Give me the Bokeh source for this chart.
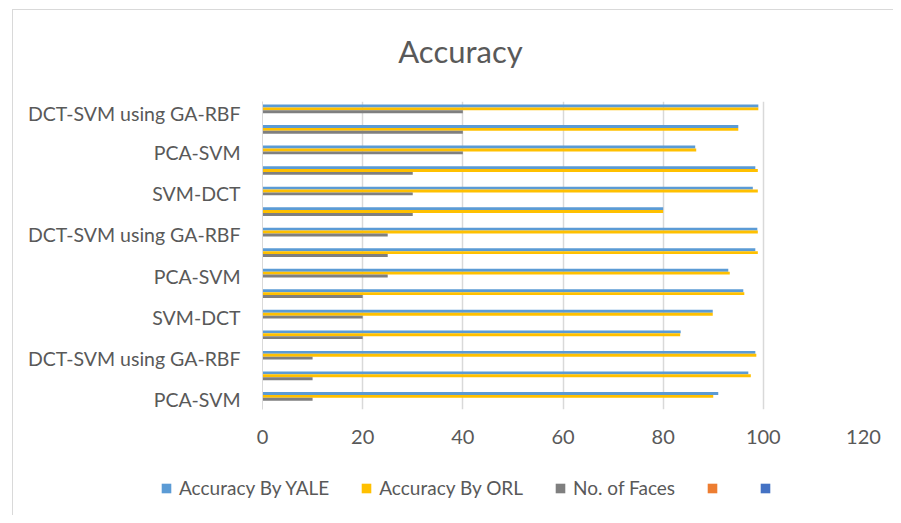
from bokeh.plotting import figure
from bokeh.layouts import column
from bokeh.models import ColumnDataSource, Range1d, FixedTicker, Legend, LegendItem, Label
from bokeh.transform import dodge
from bokeh.embed import file_html
from bokeh.resources import INLINE

# ---- data (bottom to top) ----
categories = ["PCA-SVM", "SVM-DCT", "DCT-SVM using GA-RBF",
              "PCA-SVM", "SVM-DCT", "DCT-SVM using GA-RBF",
              "PCA-SVM", "SVM-DCT", "DCT-SVM using GA-RBF",
              "PCA-SVM", "SVM-DCT", "DCT-SVM using GA-RBF",
              "PCA-SVM", "SVM-DCT", "DCT-SVM using GA-RBF"]
yale = [91.0, 97.0, 98.4, 83.5, 89.9, 96.0, 93.0, 98.4, 98.8, 80.0, 97.9, 98.4, 86.4, 95.0, 99.0]
orl = [90.0, 97.5, 98.6, 83.4, 89.9, 96.2, 93.3, 98.9, 98.9, 80.0, 98.9, 98.9, 86.6, 95.0, 99.0]
faces = [10, 10, 10, 20, 20, 20, 25, 25, 25, 30, 30, 30, 40, 40, 40]
series_names = ["Accuracy By YALE", "Accuracy By ORL", "No. of Faces", "", ""]
colors = ["#5B9BD5", "#FFC000", "#7F7F7F", "#ED7D31", "#4472C4"]
x_ticks = [0, 20, 40, 60, 80, 100, 120]
title_text = "Accuracy"

FONT = "Lato"
TEXT = "#595959"
GRID = "#d9d9d9"
W = 881


def strip(height, margin, styles):
    f = figure(width=W, height=height, x_range=Range1d(0, W), y_range=Range1d(0, height),
               x_axis_type=None, y_axis_type=None,
               output_backend="svg", toolbar_location=None,
               min_border_left=0, min_border_right=0, min_border_top=0, min_border_bottom=0)
    f.frame_align = False
    f.margin = margin
    f.styles = styles
    f.outline_line_color = None
    f.xgrid.grid_line_color = None
    f.ygrid.grid_line_color = None
    return f


# ---- header with title ----
hd = strip(92, (9, 0, 0, 12), {"border-left": "1px solid #d9d9d9", "border-top": "1px solid #d9d9d9"})
hd.add_layout(Label(x=447, y=52, text=title_text, text_align="center",
                    text_baseline="middle", text_font=FONT,
                    text_font_size="31px", text_color=TEXT))

# ---- main chart ----
idx = list(range(len(categories)))
nan = float("nan")
src = ColumnDataSource(dict(y=idx, yale=yale, orl=orl, faces=faces,
                            empty=[nan] * len(idx)))

p = figure(width=W, height=364,
           x_range=Range1d(0, 120), y_range=Range1d(-0.5, len(idx) - 0.5),
           output_backend="svg", toolbar_location=None,
           min_border_left=249, min_border_right=31,
           min_border_top=0, min_border_bottom=56)
p.margin = (0, 0, 0, 12)
p.styles = {"border-left": "1px solid #d9d9d9"}
p.outline_line_color = None
p.background_fill_color = "white"
p.border_fill_color = "white"

bar_h = 0.141
offsets = [0.282, 0.141, 0.0, -0.141, -0.282]
fields = ["yale", "orl", "faces", "empty", "empty"]
for f, off, c in zip(fields, offsets, colors):
    p.hbar(y=dodge("y", off), right=f, left=0, height=bar_h, source=src,
           fill_color=c, line_color=None)

p.xaxis.ticker = FixedTicker(ticks=x_ticks)
p.xaxis.axis_line_color = None
p.xaxis.major_tick_line_color = None
p.xaxis.minor_tick_line_color = None
p.xaxis.major_tick_out = 0
p.xaxis.major_label_standoff = 20
p.xaxis.major_label_text_font = FONT
p.xaxis.major_label_text_font_size = "20px"
p.xaxis.major_label_text_color = TEXT

p.yaxis.ticker = FixedTicker(ticks=idx[::2])
p.yaxis.major_label_overrides = {i: categories[i] for i in idx[::2]}
p.yaxis.axis_line_color = GRID
p.yaxis.axis_line_width = 1
p.yaxis.major_tick_line_color = None
p.yaxis.minor_tick_line_color = None
p.yaxis.major_tick_out = 0
p.yaxis.major_label_standoff = 22
p.yaxis.major_label_text_font = FONT
p.yaxis.major_label_text_font_size = "19.5px"
p.yaxis.major_label_text_color = TEXT

p.xgrid.grid_line_color = GRID
p.xgrid.grid_line_width = 1.5
p.ygrid.grid_line_color = None

# ---- legend strip ----
lg = strip(50, (0, 0, 0, 12), {"border-left": "1px solid #d9d9d9"})
legend_src = ColumnDataSource(dict(y=[nan], right=[nan]))
leg_renderers = [lg.hbar(y="y", right="right", left=0, height=0.1, source=legend_src,
                         fill_color=c, line_color=None) for c in colors]
leg = Legend(items=[LegendItem(label=n, renderers=[r]) for n, r in zip(series_names, leg_renderers)],
             location=(147, 16), orientation="horizontal",
             border_line_color=None, background_fill_alpha=0,
             padding=0, margin=0, spacing=31,
             glyph_width=12, glyph_height=12, label_standoff=7,
             label_width=3,
             label_text_font=FONT, label_text_font_size="19px",
             label_text_color=TEXT, label_height=20)
lg.add_layout(leg)

layout = column(hd, p, lg, spacing=0)
open("out.html", "w").write(file_html(layout, INLINE))
